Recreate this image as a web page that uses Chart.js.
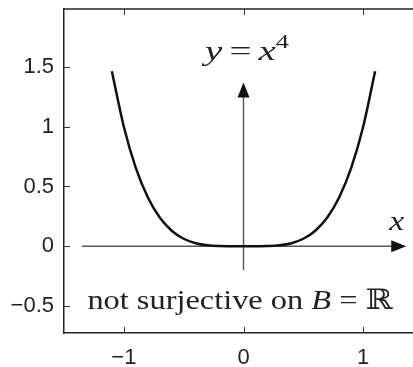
<!DOCTYPE html>
<html>
<head>
<meta charset="utf-8">
<script src="https://cdn.jsdelivr.net/npm/chart.js@4/dist/chart.umd.min.js"></script>
<style>
  html, body { margin: 0; padding: 0; background: #fff; overflow: hidden; }
  #wrap { width: 413px; height: 367px; overflow: hidden; position: relative; }
  #box { width: 426px; height: 367px; position: absolute; left: 0; top: 0; }
</style>
</head>
<body>
<div id="wrap"><div id="box"><canvas id="c"></canvas></div></div>
<script>
// ---- data ----
const xValues = [-1.1, -1.0, -0.9, -0.8, -0.7, -0.6, -0.5, -0.4, -0.3, -0.2, -0.1, 0,
                 0.1, 0.2, 0.3, 0.4, 0.5, 0.6, 0.7, 0.8, 0.9, 1.0, 1.1];
const yValues = [1.464, 1.0, 0.656, 0.41, 0.24, 0.13, 0.0625, 0.0256, 0.0081, 0.0016, 0.0001, 0,
                 0.0001, 0.0016, 0.0081, 0.0256, 0.0625, 0.13, 0.24, 0.41, 0.656, 1.0, 1.464];
const xTicks = [-1, 0, 1];
const yTicks = [-0.5, 0, 0.5, 1, 1.5];
const xRange = [-1.5, 1.5];
const yRange = [-0.726, 1.985];
const xAxisArrow = [-1.35, 1.36];   // horizontal arrow along y = 0
const yAxisArrow = [-0.2, 1.37];    // vertical arrow along x = 0

const points = xValues.map((x, i) => ({ x: x, y: yValues[i] }));

const SERIF = '"Liberation Serif", "DejaVu Serif", serif';

function drawRich(ctx, segs, cx, baseY, targetW) {
  let total = 0;
  segs.forEach(s => {
    ctx.font = (s.italic ? 'italic ' : '') + s.size + 'px ' + SERIF;
    s.w = ctx.measureText(s.t).width + (s.gap || 0);
    total += s.w;
  });
  const sx = targetW ? targetW / total : 1;
  ctx.save();
  ctx.translate(cx - total * sx / 2, baseY);
  ctx.scale(sx, 1);
  ctx.textBaseline = 'alphabetic';
  ctx.textAlign = 'left';
  let x = 0;
  segs.forEach(s => {
    ctx.font = (s.italic ? 'italic ' : '') + s.size + 'px ' + SERIF;
    ctx.fillText(s.t, x + (s.gap || 0) / 2, s.dy || 0);
    x += s.w;
  });
  ctx.restore();
}

const decor = {
  id: 'decor',
  beforeDatasetsDraw(chart) {
    const ctx = chart.ctx, xs = chart.scales.x, ys = chart.scales.y;
    ctx.save();
    ctx.strokeStyle = '#555';
    ctx.fillStyle = '#111';
    ctx.lineWidth = 1.4;
    const y0 = ys.getPixelForValue(0);
    const hx0 = xs.getPixelForValue(xAxisArrow[0]);
    const hx1 = xs.getPixelForValue(xAxisArrow[1]);
    ctx.beginPath(); ctx.moveTo(hx0, y0); ctx.lineTo(hx1 - 14, y0); ctx.stroke();
    ctx.beginPath(); ctx.moveTo(hx1, y0); ctx.lineTo(hx1 - 15, y0 - 6); ctx.lineTo(hx1 - 15, y0 + 6); ctx.closePath(); ctx.fill();
    const x0 = xs.getPixelForValue(0);
    const vy0 = ys.getPixelForValue(yAxisArrow[0]);
    const vy1 = ys.getPixelForValue(yAxisArrow[1]);
    ctx.beginPath(); ctx.moveTo(x0, vy0); ctx.lineTo(x0, vy1 + 14); ctx.stroke();
    ctx.beginPath(); ctx.moveTo(x0, vy1); ctx.lineTo(x0 - 6, vy1 + 15); ctx.lineTo(x0 + 6, vy1 + 15); ctx.closePath(); ctx.fill();
    ctx.restore();
  },
  afterDraw(chart) {
    const ctx = chart.ctx, xs = chart.scales.x, ys = chart.scales.y;
    const a = chart.chartArea;
    ctx.save();
    ctx.strokeStyle = '#222';
    ctx.lineWidth = 1.5;
    ctx.beginPath(); ctx.moveTo(a.left - 0.75, a.top); ctx.lineTo(a.right, a.top); ctx.stroke();
    ctx.lineWidth = 1;
    ctx.strokeStyle = '#333';
    xTicks.forEach(v => {
      const px = Math.round(xs.getPixelForValue(v)) + 0.5;
      ctx.beginPath(); ctx.moveTo(px, a.bottom); ctx.lineTo(px, a.bottom - 6); ctx.stroke();
      ctx.beginPath(); ctx.moveTo(px, a.top); ctx.lineTo(px, a.top + 6); ctx.stroke();
    });
    yTicks.forEach(v => {
      const py = Math.round(ys.getPixelForValue(v)) + 0.5;
      ctx.beginPath(); ctx.moveTo(a.left, py); ctx.lineTo(a.left + 6, py); ctx.stroke();
    });
    ctx.fillStyle = '#222';
    drawRich(ctx, [
      { t: 'y', italic: true, size: 28 },
      { t: '=', italic: false, size: 28, gap: 10 },
      { t: 'x', italic: true, size: 28 },
      { t: '4', italic: false, size: 19, dy: -12 }
    ], xs.getPixelForValue(0.03), ys.getPixelForValue(1.556), 84);
    drawRich(ctx, [{ t: 'x', italic: true, size: 28 }],
      xs.getPixelForValue(1.28), ys.getPixelForValue(0.134), 15);
    drawRich(ctx, [
      { t: 'not surjective on ', italic: false, size: 28 },
      { t: 'B', italic: true, size: 28 },
      { t: '=', italic: false, size: 28, gap: 14 },
      { t: 'ℝ', italic: false, size: 28 }
    ], xs.getPixelForValue(-0.03), ys.getPixelForValue(-0.527), 305);
    ctx.restore();
  }
};

new Chart(document.getElementById('c'), {
  type: 'line',
  data: {
    datasets: [{
      data: points,
      borderColor: '#111',
      borderWidth: 2.5,
      pointRadius: 0,
      fill: false,
      cubicInterpolationMode: 'monotone'
    }]
  },
  options: {
    responsive: true,
    maintainAspectRatio: false,
    animation: false,
    devicePixelRatio: 1,
    layout: { padding: { top: 9, right: 3, left: 0, bottom: 0 } },
    plugins: { legend: { display: false }, tooltip: { enabled: false } },
    scales: {
      x: {
        type: 'linear',
        min: xRange[0], max: xRange[1],
        afterBuildTicks: s => { s.ticks = xTicks.map(v => ({ value: v })); },
        afterFit: s => { s.height = 34; s.paddingLeft = 0; s.paddingRight = 0; },
        grid: { display: false, drawTicks: false },
        border: { display: true, color: '#222', width: 1.5 },
        ticks: {
          padding: 12,
          color: '#222',
          font: { family: '"Liberation Sans", Arial, sans-serif', size: 22 },
          callback: v => (v < 0 ? '\u2212' : '') + Math.abs(v)
        }
      },
      y: {
        type: 'linear',
        min: yRange[0], max: yRange[1],
        afterBuildTicks: s => { s.ticks = yTicks.map(v => ({ value: v })); },
        afterFit: s => { s.width = 64; s.paddingTop = 0; s.paddingBottom = 0; },
        grid: { display: false, drawTicks: false },
        border: { display: true, color: '#222', width: 1.5 },
        ticks: {
          padding: 10,
          color: '#222',
          font: { family: '"Liberation Sans", Arial, sans-serif', size: 22 },
          callback: v => (v < 0 ? '\u2212' : '') + Math.abs(v)
        }
      }
    }
  },
  plugins: [decor]
});
</script>
</body>
</html>
